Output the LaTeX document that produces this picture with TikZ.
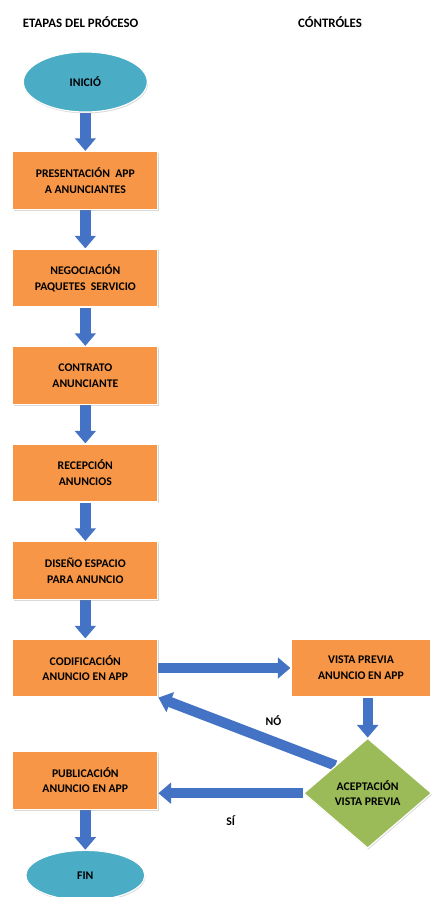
\documentclass[tikz,border=0pt]{standalone}
\usepackage{fontspec}
\setmainfont{Carlito}
\usetikzlibrary{shapes.geometric, arrows.meta, positioning, shadows, backgrounds}
\definecolor{cNaranja}{RGB}{247,150,70}
\definecolor{cTurquesa}{RGB}{75,172,198}
\definecolor{cVerde}{RGB}{155,187,89}
\definecolor{cFlecha}{RGB}{68,114,196}
\tikzset{
	sombra/.style   ={drop shadow={shadow xshift=0.6pt, shadow yshift=-1.2pt, opacity=0.3}},
	terminal/.style ={ellipse, minimum width=3.72cm, minimum height=1.8cm, inner sep=0pt, align=center, draw=white, line width=1pt, fill=cTurquesa, sombra},
	etapa/.style    ={rectangle, minimum width=4.35cm, minimum height=1.74cm, align=center, draw=white, line width=1pt, fill=cNaranja, sombra},
	decision/.style ={diamond, minimum width=3.84cm, minimum height=3.3cm, inner sep=1pt, align=center, draw=white, line width=1pt, fill=cVerde, sombra},
	flecha/.style   ={-{Triangle[length=0.38cm, width=0.62cm]}, line width=0.31cm, draw=cFlecha},
	titulo/.style   ={font=\bfseries\fontsize{11}{13}\selectfont},
}

\begin{document}
\begin{tikzpicture}[font=\bfseries\fontsize{10}{13.5}\selectfont, node distance=1.15cm]
	\useasboundingbox (0,0) rectangle (12.93,-26.91);
	% ---------------- titulos ----------------
	\node[titulo] (tEtapas) at (2.42,-0.66) {ETAPAS DEL PRÓCESO};
	\node[titulo] (tControles) at (9.9,-0.66) {CÓNTRÓLES};
	% ---------------- etapas del proceso ----------------
	\node[terminal] (inicio) at (2.56,-2.46) {INICIÓ};
	\node[etapa, below=of inicio] (presenta) {PRESENTACIÓN\ \ APP\\A ANUNCIANTES};
	\node[etapa, below=of presenta] (negocia) {NEGOCIACIÓN\\PAQUETES\ \ SERVICIO};
	\node[etapa, below=of negocia] (contrato) {CONTRATO\\ANUNCIANTE};
	\node[etapa, below=of contrato] (recepcion) {RECEPCIÓN\\ANUNCIOS};
	\node[etapa, below=of recepcion] (diseno) {DISEÑO ESPACIO\\PARA ANUNCIO};
	\node[etapa, below=of diseno] (codifica) {CODIFICACIÓN\\ANUNCIO EN APP};
	\node[etapa, below=1.59cm of codifica] (publica) {PUBLICACIÓN\\ANUNCIO EN APP};
	\node[terminal, below=1.2cm of publica, minimum width=3.57cm, minimum height=1.5cm] (fin) {FIN};
	% ---------------- controles ----------------
	\node[etapa, right=3.96cm of codifica, minimum width=4.2cm] (vista) {VISTA PREVIA\\ANUNCIO EN APP};
	\node[decision, below=1.2cm of vista, xshift=0.2cm] (acepta) {ACEPTACIÓN\\VISTA PREVIA};
	% ---------------- flechas ----------------
	\begin{scope}[on background layer]
		\draw[flecha] (inicio) -- (presenta);
		\draw[flecha] (presenta) -- (negocia);
		\draw[flecha] (negocia) -- (contrato);
		\draw[flecha] (contrato) -- (recepcion);
		\draw[flecha] (recepcion) -- (diseno);
		\draw[flecha] (diseno) -- (codifica);
		\draw[flecha] (codifica) -- (vista);
		\draw[flecha] (vista.south -| acepta.north) -- (acepta.north);
		\draw[flecha] (acepta.north west) -- (codifica.south east)
			node[pos=0.35, above=2mm] {NÓ};
		\draw[flecha] (acepta.west) -- (acepta.west -| publica.east)
			node[pos=0.5, below=4mm] {SÍ};
		\draw[flecha] (publica) -- (fin);
	\end{scope}
\end{tikzpicture}
\end{document}
